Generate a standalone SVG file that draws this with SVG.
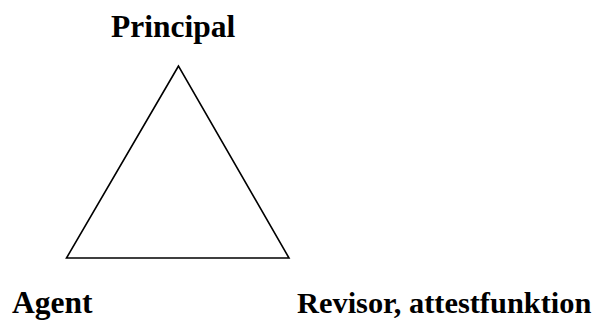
<svg xmlns="http://www.w3.org/2000/svg" width="599" height="320" viewBox="0 0 599 320">
<style>
.t{font-family:"Liberation Serif","Times New Roman",serif;font-weight:bold;font-size:31.5px;fill:#000}
</style>
<rect width="599" height="320" fill="#fff"/>
<g id="connectors">
<polygon points="178.5,66 66.5,258 289,258" fill="none" stroke="#000" stroke-width="1.6" stroke-linejoin="miter"/>
</g>
<g id="principal"><text class="t" x="111" y="37">Principal</text></g>
<g id="agent"><text class="t" x="12" y="313">Agent</text></g>
<g id="revisor"><text class="t" x="297" y="313" style="font-size:30.4px">Revisor, attestfunktion</text></g>
</svg>
